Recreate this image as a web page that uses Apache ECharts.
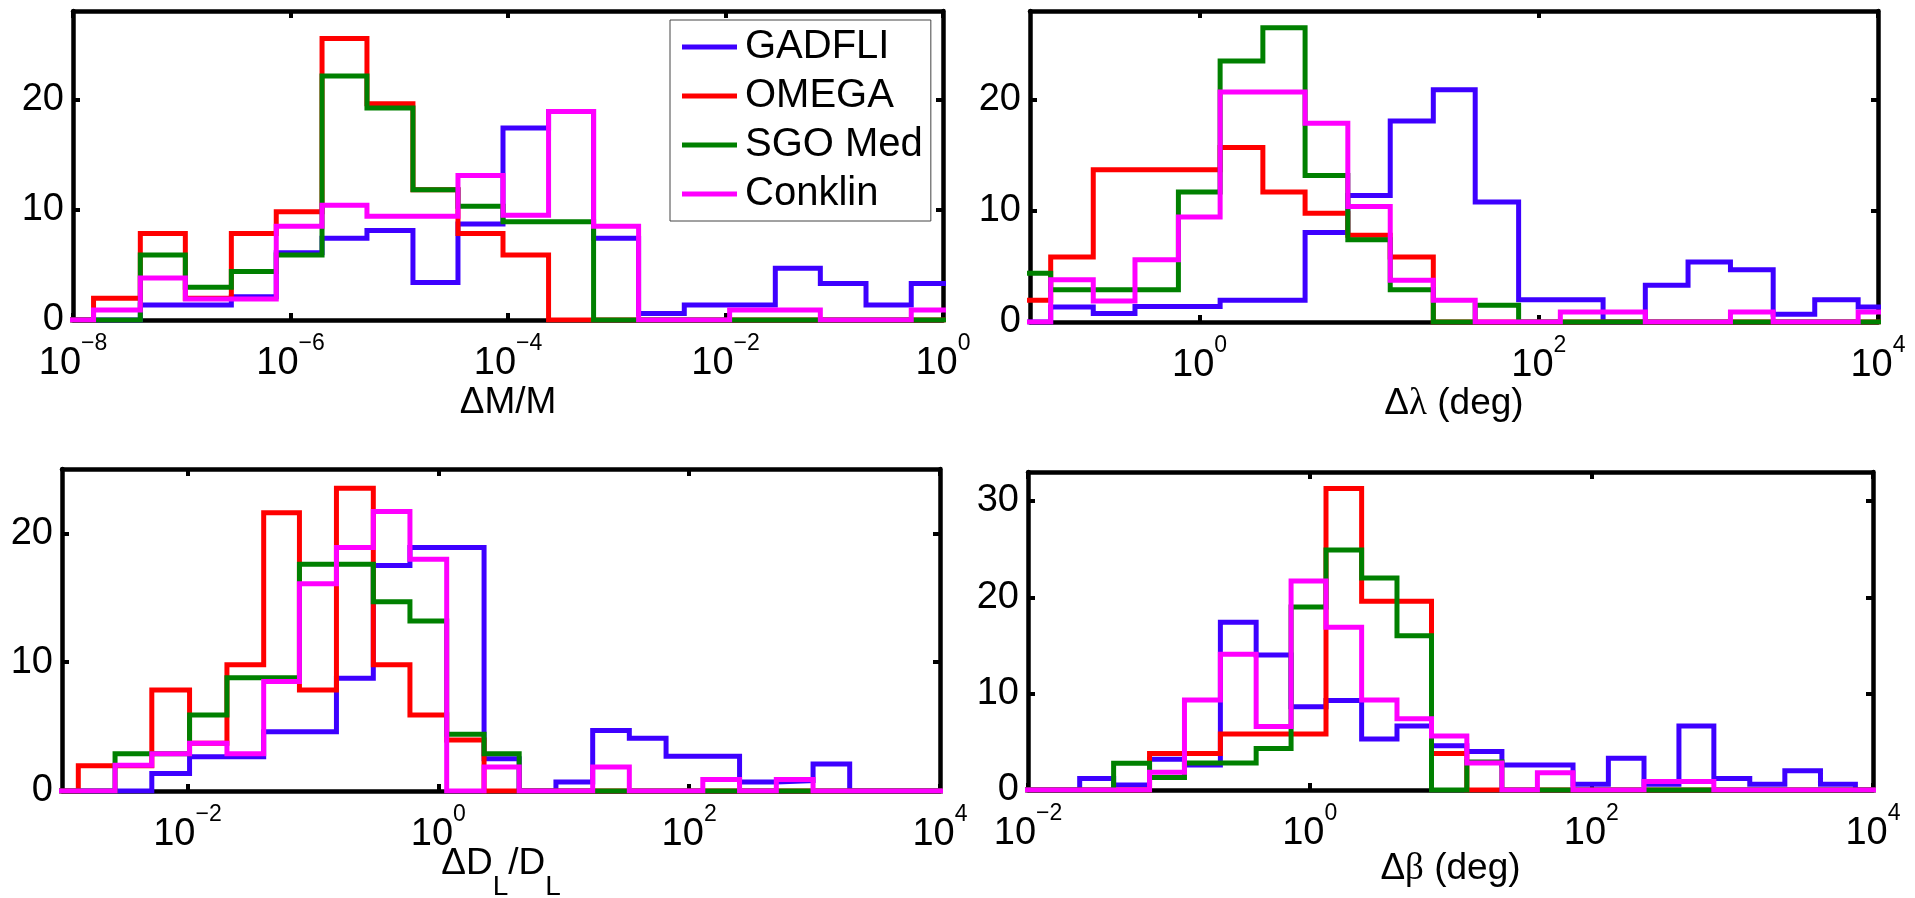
<!DOCTYPE html>
<html><head><meta charset="utf-8">
<script src="https://cdn.jsdelivr.net/npm/echarts@6/dist/echarts.min.js"></script>
<style>html,body{margin:0;padding:0;background:#fff}#c{width:1915px;height:898px}</style>
</head><body><div id="c"></div>
<script>
const seriesNames = ['GADFLI', 'OMEGA', 'SGO Med', 'Conklin'];
const seriesColors = ['#3d00ff', '#ff0000', '#008000', '#ff00ff'];

// Bin edges are log10 values; counts[i] belongs to bin [edges[i], edges[i+1]]
// Panel 1: ΔM/M
const p1Edges = [-8.229,-7.811,-7.381,-6.967,-6.544,-6.131,-5.710,-5.297,-4.874,-4.460,-4.046,-3.627,-3.213,-2.799,-2.379,-1.962,-1.542,-1.128,-0.708,-0.292,0.126];
const p1Gadfli  = [0,0,1.36,1.36,2.1,6.1,7.4,8.1,3.4,8.7,17.4,18.9,7.4,0.6,1.36,1.36,4.7,3.3,1.36,3.3];
const p1Omega   = [0,1.96,7.84,1.96,7.84,9.8,25.5,19.6,11.8,7.84,5.88,0,0,0,0,0,0,0,0,0];
const p1Sgo     = [0,0,5.9,2.96,4.4,5.9,22.1,19.2,11.8,10.3,8.9,8.9,0,0,0,0,0,0,0,0];
const p1Conklin = [0,0.9,3.8,1.9,1.9,8.5,10.4,9.4,9.4,13.1,9.5,18.9,8.5,0,0,0.9,0.9,0,0,0.9];

// Panel 2: Δλ (deg)
const p2Edges = [-1.129,-0.878,-0.627,-0.381,-0.125,0.121,0.373,0.622,0.874,1.124,1.378,1.625,1.881,2.127,2.379,2.628,2.880,3.130,3.382,3.627,3.883,4.134];
const p2Gadfli  = [0,1.35,0.76,1.4,1.4,1.95,1.95,8.05,11.4,18.1,20.9,10.8,2.0,2.0,0,3.3,5.4,4.7,0.7,2.0,1.35];
const p2Omega   = [1.95,5.86,13.7,13.7,13.7,15.7,11.7,9.8,7.8,5.86,0,0,0,0,0,0,0,0,0,0,0];
const p2Sgo     = [4.4,2.9,2.9,2.9,11.7,23.5,26.5,13.2,7.4,2.9,0,1.5,0,0,0,0,0,0,0,0,0];
const p2Conklin = [0,3.8,1.9,5.6,9.46,20.7,20.7,17.9,10.4,3.76,1.95,0,0,0.9,0.9,0,0,0.9,0,0,0.9];

// Panel 3: ΔD_L/D_L
const p3Edges = [-3.163,-2.870,-2.577,-2.284,-1.983,-1.685,-1.392,-1.107,-0.812,-0.518,-0.226,0.067,0.365,0.645,0.938,1.231,1.523,1.816,2.109,2.402,2.695,2.988,3.280,3.573,3.866,4.159];
const p3Gadfli  = [0,0,0,1.35,2.65,2.65,4.6,4.6,8.75,17.5,18.9,18.9,2.5,0,0.7,4.7,4.1,2.7,2.7,0.7,0.8,2.1,0,0,0];
const p3Omega   = [0,1.96,1.96,7.84,3.7,9.8,21.6,7.84,23.5,9.8,5.9,3.95,0,0,0,0,0,0,0,0,0,0,0,0,0];
const p3Sgo     = [0,0,2.9,2.9,5.9,8.8,8.8,17.6,17.6,14.7,13.2,4.4,2.9,0,0,0,0,0,0,0,0,0,0,0,0];
const p3Conklin = [0,0,2.0,2.9,3.7,2.9,8.5,16.1,18.9,21.7,18.0,0,1.87,0,0,1.87,0,0,0.9,0,0.9,0,0,0,0];

// Panel 4: Δβ (deg)
const p4Edges = [-2.135,-1.884,-1.633,-1.392,-1.137,-0.889,-0.634,-0.380,-0.132,0.116,0.369,0.620,0.865,1.116,1.365,1.617,1.870,2.121,2.374,2.622,2.870,3.125,3.374,3.627,3.875,4.126];
const p4Gadfli  = [0,0,1.2,0.52,3.2,2.6,17.4,14.0,8.65,9.3,5.3,6.65,4.6,4.0,2.6,2.6,0.6,3.3,0.6,6.65,1.2,0.6,2.0,0.6,0];
const p4Omega   = [0,0,0,0,3.8,3.8,5.8,5.8,5.8,31.3,19.6,19.6,3.8,0,0,0,0,0,0,0,0,0,0,0,0];
const p4Sgo     = [0,0,0,2.77,1.3,2.8,2.8,4.3,19.0,24.9,22.0,16.0,0,2.9,0,0,0,0,0,0,0,0,0,0,0];
const p4Conklin = [0,0,0,0,1.84,9.35,14.1,6.6,21.7,16.9,9.35,7.4,5.6,2.8,0,1.8,0,0,0.87,0.87,0,0,0,0,0];

// Axis ranges / tick exponents
const p1XRange = [-8, 0],  p1XTicks = [-8, -6, -4, -2, 0], p1YMax = 28, p1YTicks = [0, 10, 20];
const p2XRange = [-1, 4],  p2XTicks = [0, 2, 4],            p2YMax = 28, p2YTicks = [0, 10, 20];
const p3XRange = [-3, 4],  p3XTicks = [-2, 0, 2, 4],        p3YMax = 25, p3YTicks = [0, 10, 20];
const p4XRange = [-2, 4],  p4XTicks = [-2, 0, 2, 4],        p4YMax = 33, p4YTicks = [0, 10, 20, 30];

const FONT = 'Liberation Sans';

const panels = [
  { edges: p1Edges, counts: [p1Gadfli, p1Omega, p1Sgo, p1Conklin], xr: p1XRange, xt: p1XTicks, ymax: p1YMax, yt: p1YTicks,
    name: 'ΔM/M', nameGap: 62, grid: { left: 73, top: 11, width: 870, height: 309 } },
  { edges: p2Edges, counts: [p2Gadfli, p2Omega, p2Sgo, p2Conklin], xr: p2XRange, xt: p2XTicks, ymax: p2YMax, yt: p2YTicks,
    name: '{n|Δ}{g|λ}{n| (deg)}', nameGap: 61, grid: { left: 1030, top: 11, width: 848, height: 311 } },
  { edges: p3Edges, counts: [p3Gadfli, p3Omega, p3Sgo, p3Conklin], xr: p3XRange, xt: p3XTicks, ymax: p3YMax, yt: p3YTicks,
    name: '{n|ΔD}{s|L}{n|/D}{s|L}', nameGap: 54, grid: { left: 62, top: 469, width: 878, height: 322 }, sub: true },
  { edges: p4Edges, counts: [p4Gadfli, p4Omega, p4Sgo, p4Conklin], xr: p4XRange, xt: p4XTicks, ymax: p4YMax, yt: p4YTicks,
    name: '{n|Δ}{g|β}{n| (deg)}', nameGap: 58, grid: { left: 1028, top: 472, width: 845, height: 318 } }
];

function stepData(edges, counts) {
  const out = [];
  for (let i = 0; i < counts.length; i++) out.push([Math.pow(10, edges[i]), counts[i]]);
  out.push([Math.pow(10, edges[counts.length]), counts[counts.length - 1]]);
  return out;
}
function expLabel(v) {
  const e = Math.round(Math.log10(v));
  return '{b|10}{e|' + (e < 0 ? '\u2212' + (-e) : String(e)) + '}';
}

const grids = [], xAxes = [], yAxes = [], series = [];
const lineAx = { show: true, onZero: false, lineStyle: { color: '#000', width: 4.5 } };
panels.forEach((p, g) => {
  grids.push(Object.assign({ outerBoundsMode: 'none', containLabel: false }, p.grid));
  const xmin = Math.pow(10, p.xr[0]), xmax = Math.pow(10, p.xr[1]);
  const xt = p.xt.map(e => Math.pow(10, e));
  const nameRich = {
    n: { fontSize: 37, fontFamily: FONT, color: '#000', lineHeight: p.sub ? 56 : 42, verticalAlign: p.sub ? 'top' : 'middle' },
    g: { fontSize: 37, fontFamily: 'Liberation Serif', color: '#000', lineHeight: 42 },
    s: { fontSize: 28, fontFamily: FONT, color: '#000', verticalAlign: 'bottom' }
  };
  const baseX = {
    type: 'log', logBase: 10, gridIndex: g, min: xmin, max: xmax,
    axisLine: lineAx, splitLine: { show: false }, minorTick: { show: false }, minorSplitLine: { show: false },
    axisTick: { show: true, inside: true, length: 7, lineStyle: { color: '#000', width: 4 }, customValues: xt }
  };
  xAxes.push(Object.assign({}, baseX, {
    position: 'bottom',
    axisLabel: { show: true, customValues: xt, margin: 12, formatter: expLabel,
      rich: {
        b: { fontSize: 38, fontFamily: FONT, color: '#000', lineHeight: 51, verticalAlign: 'bottom' },
        e: { fontSize: 23, fontFamily: FONT, color: '#000', verticalAlign: 'top' }
      } },
    name: p.name, nameLocation: 'middle', nameGap: p.nameGap, nameMoveOverlap: false,
    nameTextStyle: { fontSize: 37, fontFamily: FONT, color: '#000', lineHeight: 42, rich: nameRich }
  }));
  xAxes.push(Object.assign({}, baseX, { position: 'top', axisLabel: { show: false } }));
  const baseY = {
    type: 'value', gridIndex: g, min: 0, max: p.ymax,
    axisLine: lineAx, splitLine: { show: false },
    axisTick: { show: true, inside: true, length: 7, lineStyle: { color: '#000', width: 4 }, customValues: p.yt }
  };
  yAxes.push(Object.assign({}, baseY, {
    position: 'left',
    axisLabel: { show: true, customValues: p.yt, margin: 9, fontSize: 38, fontFamily: FONT, color: '#000',
      lineHeight: 44, padding: [5, 0, 0, 0] }
  }));
  yAxes.push(Object.assign({}, baseY, { position: 'right', axisLabel: { show: false } }));
  p.counts.forEach((c, s) => {
    series.push({
      type: 'line', name: seriesNames[s], xAxisIndex: 2 * g, yAxisIndex: 2 * g,
      data: stepData(p.edges, c), step: 'end', symbol: 'none', showSymbol: false, clip: true,
      lineStyle: { color: seriesColors[s], width: 5, join: 'miter', cap: 'butt' },
      itemStyle: { color: seriesColors[s] }, silent: true, z: 3
    });
  });
});

const chart = echarts.init(document.getElementById('c'), null, { renderer: 'canvas' });
chart.setOption({
  animation: false,
  backgroundColor: '#fff',
  textStyle: { fontFamily: FONT },
  grid: grids, xAxis: xAxes, yAxis: yAxes, series: series,
  legend: {
    data: seriesNames.map(n => ({ name: n, icon: 'rect' })),
    left: 670, top: 20, orient: 'vertical',
    itemWidth: 55, itemHeight: 5, itemGap: 9, padding: [7, 8, 7, 12],
    borderColor: '#444', borderWidth: 1, backgroundColor: '#fff', selectedMode: false,
    textStyle: { fontSize: 40, fontFamily: FONT, color: '#000', lineHeight: 40, padding: [0, 0, 0, 3] }
  }
});
</script></body></html>
